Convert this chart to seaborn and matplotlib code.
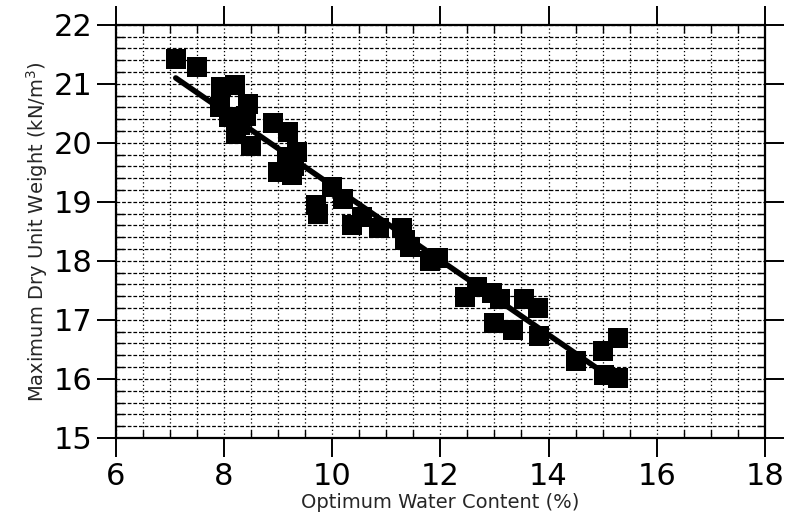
import numpy as np
import pandas as pd
import seaborn as sns
from matplotlib import pyplot as plt
from matplotlib.ticker import MultipleLocator

# values
water_content = [7.11, 7.50, 7.95, 8.20, 7.93, 8.10, 8.45, 8.40, 8.22, 8.50, 8.30,
                 8.90, 9.19, 9.35, 9.16, 9.00, 9.25, 9.30, 9.74, 9.70, 10.00,
                 10.20, 10.37, 10.55, 10.87, 11.30, 11.44, 11.35, 11.81, 11.95,
                 12.46, 12.68, 12.95, 13.10, 13.00, 13.35, 13.55, 13.80, 13.82,
                 14.50, 15.00, 15.28, 15.02, 15.28]
dry_unit_weight = [21.42, 21.29, 20.95, 20.98, 20.60, 20.44, 20.65, 20.45, 20.15, 19.95, 20.30,
                   20.33, 20.19, 19.85, 19.76, 19.50, 19.45, 19.60, 18.80, 18.95, 19.25,
                   19.05, 18.61, 18.75, 18.55, 18.55, 18.24, 18.35, 18.00, 18.05,
                   17.39, 17.56, 17.45, 17.35, 16.95, 16.83, 17.35, 17.20, 16.72,
                   16.30, 16.48, 16.70, 16.07, 16.02]

df = pd.DataFrame({'water': water_content, 'weight': dry_unit_weight})

sns.set_style('ticks')
plt.rcParams['font.family'] = ['DejaVu Sans']

fig = plt.figure(figsize=(7.87, 5.27), dpi=100)
ax = fig.add_axes([0.147, 0.169, 0.825, 0.784])

ax.set_axisbelow(True)
ax.grid(which='both', axis='y', color='black', linestyle=(0, (3, 1.5)), linewidth=0.9)
ax.grid(which='both', axis='x', color='black', linestyle=(0, (1, 2)), linewidth=0.9)

sns.regplot(data=df, x='water', y='weight', ax=ax, ci=None, marker='s',
            scatter_kws={'s': 200, 'color': 'black', 'alpha': 1, 'linewidths': 0},
            line_kws={'color': 'black', 'linewidth': 4})

ax.set_xlim(6, 18)
ax.set_ylim(15, 22)
ax.xaxis.set_major_locator(MultipleLocator(2))
ax.xaxis.set_minor_locator(MultipleLocator(0.5))
ax.yaxis.set_major_locator(MultipleLocator(1))
ax.yaxis.set_minor_locator(MultipleLocator(0.2))

for s in ax.spines.values():
    s.set_visible(True)
    s.set_linewidth(1.6)
    s.set_color('black')

ax.tick_params(which='major', direction='out', length=14, width=1.4, pad=3,
               labelsize=22, top=True, right=True, colors='black')
ax.tick_params(which='minor', direction='in', length=6, width=1.0,
               top=True, right=True, colors='black')

ax.set_xlabel('Optimum Water Content (%)', fontsize=14, labelpad=2)
ax.set_ylabel('Maximum Dry Unit Weight (kN/m$^3$)', fontsize=14, labelpad=2)

fig.savefig('out.png', dpi=100)
